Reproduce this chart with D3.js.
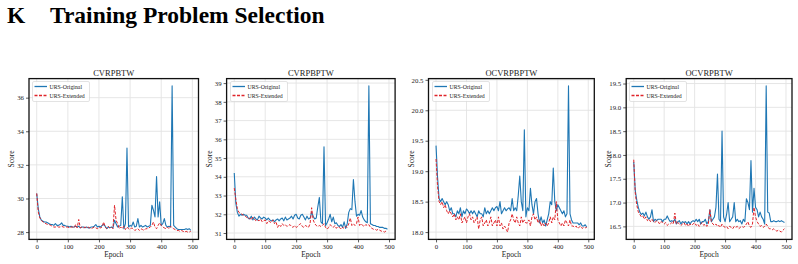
<!DOCTYPE html>
<html>
<head>
<meta charset="utf-8">
<script src="https://cdn.jsdelivr.net/npm/d3@7"></script>
<style>
  body { margin: 0; background: #fff; }
  text { font-family: "Liberation Serif", "DejaVu Serif", serif; fill: #222; }
</style>
</head>
<body>
<div class="d3_canvas"></div>
<script>
var width = 798, height = 264;

// epochs 0..495, every 5
var epochs = d3.range(0, 500, 5);

var titles = ["CVRPBTW", "CVRPBPTW", "OCVRPBPTW", "OCVRPBTW"];
var seriesNames = ["URS-Original", "URS-Extended"];
var xTicks = [0, 100, 200, 300, 400, 500];
var yTicks = [
  [28, 30, 32, 34, 36],
  [31, 32, 33, 34, 35, 36, 37, 38, 39],
  [18.0, 18.5, 19.0, 19.5, 20.0, 20.5],
  [16.5, 17.0, 17.5, 18.0, 18.5, 19.0, 19.5]
];

var cvrpbtwOrig = [30.3,29.4,28.9,28.7,28.65,28.6,28.6,28.55,28.5,28.45,
  28.45,28.4,28.5,28.4,28.4,28.45,28.55,28.4,28.4,28.35,
  28.35,28.3,28.35,28.3,28.3,28.35,28.3,28.35,28.25,28.3,
  28.3,28.25,28.3,28.25,28.25,28.3,28.3,28.35,28.45,28.3,
  28.35,28.3,28.4,28.45,28.35,28.2,28.3,28.25,28.3,28.25,
  28.7,28.5,28.3,28.35,28.4,30.1,28.2,28.5,33.0,28.3,
  28.4,28.35,28.6,28.3,28.35,28.8,28.3,28.4,28.3,28.35,
  28.4,28.3,28.35,28.4,29.6,29.3,28.9,31.3,28.9,29.8,
  28.4,28.5,28.8,28.4,28.3,28.35,28.3,36.7,28.4,28.3,
  28.2,28.15,28.15,28.15,28.15,28.15,28.2,28.15,28.2,28.1];
var cvrpbtwExt = [30.3,29.2,28.85,28.7,28.6,28.55,28.5,28.45,28.45,28.4,
  28.35,28.3,28.3,28.35,28.3,28.3,28.35,28.3,28.3,28.3,
  28.3,28.25,28.3,28.3,28.25,28.45,28.25,28.75,28.25,28.3,
  28.25,28.3,28.25,28.3,28.25,28.2,28.25,28.3,28.25,28.2,
  28.3,28.25,28.3,28.6,28.3,28.2,28.35,28.25,28.3,28.2,
  29.6,28.7,28.5,28.2,28.3,28.2,28.35,28.15,28.3,28.2,
  28.15,28.25,28.2,28.1,28.15,28.2,28.1,28.2,28.15,28.1,
  28.2,28.2,28.25,28.3,28.4,28.6,28.3,28.2,28.4,28.55,
  28.4,28.3,28.25,28.2,28.3,28.2,28.35,28.25,28.2,28.15,
  28.1,28.1,28.05,28.1,28.05,28.0,28.05,28.0,28.0,28.05];

var cvrpbptwOrig = [34.2,32.6,32.1,31.9,32.0,31.95,32.0,31.95,31.95,31.8,
  31.75,31.9,31.7,31.85,31.75,31.7,31.9,31.8,31.75,31.85,
  31.8,31.7,31.8,31.7,31.65,31.7,31.6,31.7,31.75,31.65,
  31.75,31.8,31.65,31.85,31.7,31.75,31.8,31.9,31.75,31.95,
  32.0,31.8,31.75,31.95,32.0,31.85,31.7,31.9,31.75,31.8,
  32.1,31.9,31.75,31.8,32.4,32.9,31.6,31.5,35.6,31.4,
  31.55,31.75,32.0,31.6,31.85,31.5,31.55,31.4,31.35,31.45,
  31.3,31.6,31.25,31.5,32.1,32.3,32.25,33.85,32.7,31.9,
  32.0,31.95,32.2,31.85,31.7,31.6,31.55,38.85,31.5,31.45,
  31.4,31.4,31.35,31.35,31.3,31.3,31.3,31.25,31.25,31.2];
var cvrpbptwExt = [33.4,32.8,32.3,32.1,32.05,32.0,31.95,31.9,31.85,31.75,
  31.8,31.7,31.85,31.75,31.65,31.7,31.65,31.75,31.6,31.65,
  31.7,31.5,31.65,31.6,31.55,31.7,31.5,31.6,31.3,31.45,
  31.35,31.5,31.4,31.45,31.35,31.4,31.45,31.35,31.3,31.4,
  31.3,31.35,31.45,31.5,31.35,31.3,31.4,31.35,31.3,31.5,
  32.35,31.7,31.5,31.4,31.35,31.4,31.35,31.4,31.5,31.3,
  31.2,31.3,31.45,31.35,31.3,31.4,31.25,31.35,31.3,31.2,
  31.3,31.25,31.35,31.3,31.5,31.8,31.4,31.5,31.4,31.5,
  31.85,31.4,31.5,31.4,31.35,31.45,31.4,31.45,31.3,31.25,
  31.2,31.2,31.15,31.2,31.15,31.1,31.1,31.05,31.1,31.1];

var ocvrpbptwOrig = [19.42,18.9,18.55,18.5,18.55,18.5,18.45,18.5,18.45,18.35,
  18.4,18.3,18.3,18.25,18.35,18.3,18.4,18.25,18.35,18.3,
  18.38,18.35,18.3,18.35,18.3,18.35,18.3,18.25,18.35,18.3,
  18.3,18.25,18.4,18.3,18.35,18.3,18.35,18.4,18.35,18.4,
  18.42,18.35,18.5,18.3,18.35,18.4,18.35,18.38,18.4,18.35,
  18.55,18.35,18.4,18.35,18.6,18.92,18.5,18.35,19.68,18.25,
  18.4,18.35,18.72,18.45,18.3,18.5,18.55,18.3,18.15,18.25,
  18.15,18.2,18.1,18.2,18.3,18.5,18.45,19.05,18.5,18.35,
  18.45,18.4,18.35,18.3,18.35,18.25,18.3,20.4,18.3,18.2,
  18.15,18.15,18.15,18.15,18.12,18.15,18.1,18.1,18.12,18.08];
var ocvrpbptwExt = [19.2,18.75,18.5,18.45,18.5,18.4,18.45,18.35,18.3,18.35,
  18.3,18.25,18.3,18.2,18.25,18.2,18.3,18.15,18.2,18.25,
  18.15,18.25,18.3,18.2,18.25,18.15,18.2,18.25,18.05,18.2,
  18.25,18.1,18.15,18.2,18.1,18.15,18.25,18.1,18.15,18.2,
  18.1,18.25,18.1,18.15,18.05,18.1,18.05,18.0,18.15,18.2,
  18.3,18.2,18.15,18.25,18.15,18.1,18.25,18.15,18.2,18.15,
  18.15,18.2,18.1,18.25,18.3,18.2,18.25,18.15,18.2,18.1,
  18.15,18.1,18.15,18.1,18.15,18.25,18.15,18.25,18.2,18.5,
  18.2,18.15,18.1,18.15,18.1,18.2,18.15,18.1,18.2,18.1,
  18.1,18.08,18.1,18.06,18.08,18.1,18.06,18.08,18.07,18.08];

var ocvrpbtwOrig = [17.85,17.25,17.05,16.9,16.8,16.75,16.78,16.72,16.8,16.7,
  16.65,16.7,16.85,16.6,16.65,16.62,16.65,16.65,16.65,16.6,
  16.65,16.65,16.72,16.65,16.6,16.62,16.6,16.65,16.55,16.6,
  16.62,16.55,16.6,16.58,16.6,16.55,16.6,16.55,16.6,16.62,
  16.6,16.65,16.6,16.65,16.55,16.6,16.6,16.65,16.55,16.6,
  16.85,16.6,16.65,16.7,16.9,17.6,16.65,16.6,18.5,16.7,
  16.6,16.75,17.0,16.6,16.65,16.7,17.0,16.6,16.65,16.6,
  16.62,16.55,16.65,16.6,17.08,17.0,16.85,17.88,16.8,17.3,
  16.9,16.85,16.7,16.8,16.7,16.65,16.55,19.45,16.8,16.78,
  16.6,16.6,16.62,16.6,16.6,16.62,16.6,16.62,16.6,16.58];
var ocvrpbtwExt = [17.9,17.2,16.95,16.8,16.75,16.7,16.72,16.65,16.7,16.62,
  16.65,16.6,16.65,16.6,16.58,16.62,16.6,16.55,16.6,16.58,
  16.55,16.58,16.52,16.55,16.55,16.58,16.55,16.78,16.55,16.58,
  16.55,16.52,16.55,16.58,16.52,16.55,16.5,16.55,16.52,16.55,
  16.58,16.52,16.55,16.5,16.55,16.58,16.52,16.55,16.5,16.55,
  16.85,16.6,16.55,16.52,16.55,16.5,16.52,16.48,16.55,16.5,
  16.48,16.5,16.45,16.5,16.48,16.45,16.5,16.48,16.5,16.45,
  16.48,16.5,16.48,16.5,16.55,16.6,16.5,16.48,16.55,16.9,
  16.7,16.6,16.55,16.5,16.52,16.48,16.5,16.55,16.5,16.45,
  16.45,16.43,16.45,16.42,16.4,16.42,16.4,16.38,16.42,16.45];

var origSeries = [cvrpbtwOrig, cvrpbptwOrig, ocvrpbptwOrig, ocvrpbtwOrig];
var extSeries = [cvrpbtwExt, cvrpbptwExt, ocvrpbptwExt, ocvrpbtwExt];

// panel frames (pixels)
var frames = [
  {left: 29, right: 198.5},
  {left: 226.6, right: 395.1},
  {left: 428.5, right: 594.3},
  {left: 626.2, right: 792}
];
var plotTop = 78.6, plotBottom = 239.4;
var blue = "#1f77b4", red = "#e0242a";

var svg = d3.select(".d3_canvas")
  .append("svg")
    .attr("width", width)
    .attr("height", height)
    .style("display", "block");

svg.append("rect").attr("width", width).attr("height", height).attr("fill", "#fff");

// section heading
svg.append("text")
  .attr("x", 7).attr("y", 23)
  .style("font-size", "23.5px").style("font-weight", "bold").style("fill", "#000")
  .text("K");
svg.append("text")
  .attr("x", 50).attr("y", 23)
  .style("font-size", "23.5px").style("font-weight", "bold").style("fill", "#000")
  .text("Training Problem Selection");

function pad(ext) {
  var d = (ext[1] - ext[0]) * 0.05;
  return [ext[0] - d, ext[1] + d];
}

titles.forEach(function(title, k) {
  var f = frames[k];
  var orig = origSeries[k], ext = extSeries[k];

  var x = d3.scaleLinear()
    .domain(pad([epochs[0], epochs[epochs.length - 1]]))
    .range([f.left, f.right]);
  var y = d3.scaleLinear()
    .domain(pad(d3.extent(orig.concat(ext))))
    .range([plotBottom, plotTop]);

  var g = svg.append("g");
  var fmt = k >= 2 ? d3.format(".1f") : d3.format("d");

  // grid
  g.append("g").selectAll("line").data(xTicks).enter().append("line")
    .attr("x1", function(d) { return x(d); }).attr("x2", function(d) { return x(d); })
    .attr("y1", plotTop).attr("y2", plotBottom)
    .attr("stroke", "#e3e3e3").attr("stroke-width", 0.9);
  g.append("g").selectAll("line").data(yTicks[k]).enter().append("line")
    .attr("y1", function(d) { return y(d); }).attr("y2", function(d) { return y(d); })
    .attr("x1", f.left).attr("x2", f.right)
    .attr("stroke", "#e3e3e3").attr("stroke-width", 0.9);

  // axes
  var xAxis = g.append("g")
    .attr("transform", "translate(0," + plotBottom + ")")
    .call(d3.axisBottom(x).tickValues(xTicks).tickSize(3).tickPadding(2).tickFormat(d3.format("d")));
  var yAxis = g.append("g")
    .attr("transform", "translate(" + f.left + ",0)")
    .call(d3.axisLeft(y).tickValues(yTicks[k]).tickSize(3).tickPadding(2).tickFormat(fmt));
  [xAxis, yAxis].forEach(function(a) {
    a.select(".domain").remove();
    a.selectAll("line").attr("stroke", "#333").attr("stroke-width", 0.8);
    a.selectAll("text").style("font-size", "6.8px").style("font-family", "Liberation Serif").attr("fill", "#333");
  });

  // lines
  var line = d3.line()
    .x(function(d, i) { return x(epochs[i]); })
    .y(function(d) { return y(d); });
  g.append("path").datum(orig)
    .attr("d", line).attr("fill", "none")
    .attr("stroke", blue).attr("stroke-width", 1.1).attr("stroke-linejoin", "round");
  g.append("path").datum(ext)
    .attr("d", line).attr("fill", "none")
    .attr("stroke", red).attr("stroke-width", 1).attr("stroke-dasharray", "3,1.6");

  // frame
  g.append("rect")
    .attr("x", f.left).attr("y", plotTop)
    .attr("width", f.right - f.left).attr("height", plotBottom - plotTop)
    .attr("fill", "none").attr("stroke", "#111").attr("stroke-width", 1.3);

  // title and labels
  g.append("text")
    .attr("x", (f.left + f.right) / 2).attr("y", 76)
    .attr("text-anchor", "middle")
    .style("font-size", "8.5px")
    .text(title);
  g.append("text")
    .attr("x", (f.left + f.right) / 2).attr("y", 257)
    .attr("text-anchor", "middle")
    .style("font-size", "7.5px")
    .text("Epoch");
  g.append("text")
    .attr("transform", "translate(" + (f.left - 15) + "," + ((plotTop + plotBottom) / 2) + ") rotate(-90)")
    .attr("text-anchor", "middle")
    .style("font-size", "7.5px")
    .text("Score");

  // legend
  var lg = g.append("g").attr("transform", "translate(" + Math.round(f.left + 3) + ",81)");
  lg.append("rect")
    .attr("x", 0.5).attr("y", 0.5)
    .attr("width", 57).attr("height", 20).attr("rx", 1.5)
    .attr("fill", "#fff").attr("fill-opacity", 0.85)
    .attr("stroke", "#d0d0d0").attr("stroke-width", 0.6);
  seriesNames.forEach(function(name, i) {
    var yy = 5.5 + i * 9;
    lg.append("path")
      .attr("d", "M2.5," + yy + "H15")
      .attr("fill", "none")
      .attr("stroke", i ? red : blue).attr("stroke-width", 1.3)
      .attr("stroke-dasharray", i ? "3,1.5" : null);
    lg.append("text")
      .attr("x", 17.5).attr("y", yy + 2)
      .style("font-size", "5.8px")
      .text(name);
  });
});
</script>
</body>
</html>
